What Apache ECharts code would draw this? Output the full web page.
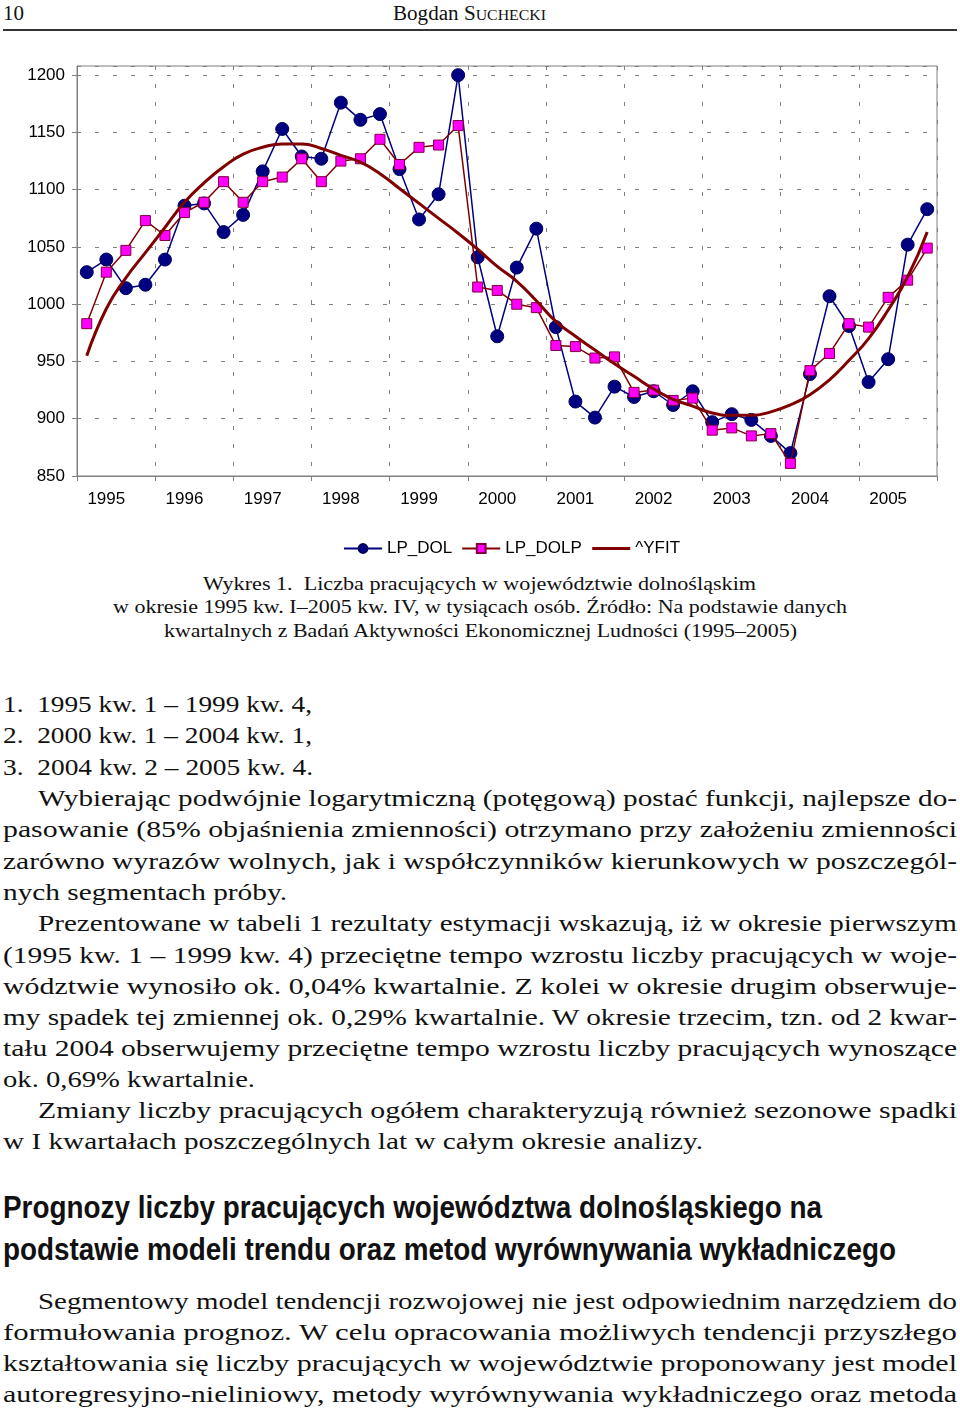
<!DOCTYPE html>
<html>
<head>
<meta charset="utf-8">
<script src="https://cdn.jsdelivr.net/npm/echarts@6/dist/echarts.min.js"></script>
<style>
  html, body { margin:0; padding:0; background:#fff; }
  body { width:960px; height:1416px; position:relative; overflow:hidden; }
  .ln { position:absolute; white-space:nowrap; transform-origin:0 0; color:#111; }
  .serif { font-family:'Liberation Serif','DejaVu Serif',serif; font-size:24px; line-height:30px; }
  .cap { font-family:'Liberation Serif','DejaVu Serif',serif; font-size:19px; line-height:24px; }
  .head { font-family:'Liberation Sans',Arial,sans-serif; font-weight:bold; font-size:31px; line-height:40px; color:#111; }
  #chart { position:absolute; left:0; top:40px; width:960px; height:530px; }
</style>
</head>
<body>
<div class="ln serif" style="top:-2px;font-size:21px" data-l="3" data-r="24">10</div>
<div class="ln serif" style="top:-2px;font-size:20px" data-l="393" data-r="546">Bogdan S<span style="font-size:15px">UCHECKI</span></div>
<div style="position:absolute;left:3px;top:29px;width:954px;height:2px;background:#333"></div>

<div id="chart"></div>

<div class="ln cap" style="top:572px" data-l="203" data-r="756">Wykres 1.&nbsp; Liczba pracujących w województwie dolnośląskim</div>
<div class="ln cap" style="top:595px" data-l="113" data-r="847">w okresie 1995 kw. I–2005 kw. IV, w tysiącach osób. Źródło: Na podstawie danych</div>
<div class="ln cap" style="top:619px" data-l="164" data-r="797">kwartalnych z Badań Aktywności Ekonomicznej Ludności (1995–2005)</div>

<div class="ln serif" style="top:689px" data-l="3" data-r="312">1.&nbsp; 1995 kw. 1 – 1999 kw. 4,</div>
<div class="ln serif" style="top:720px" data-l="3" data-r="312">2.&nbsp; 2000 kw. 1 – 2004 kw. 1,</div>
<div class="ln serif" style="top:752px" data-l="3" data-r="313">3.&nbsp; 2004 kw. 2 – 2005 kw. 4.</div>
<div class="ln serif" style="top:783px" data-l="38" data-r="957">Wybierając podwójnie logarytmiczną (potęgową) postać funkcji, najlepsze do-</div>
<div class="ln serif" style="top:814px" data-l="3" data-r="957">pasowanie (85% objaśnienia zmienności) otrzymano przy założeniu zmienności</div>
<div class="ln serif" style="top:846px" data-l="3" data-r="957">zarówno wyrazów wolnych, jak i współczynników kierunkowych w poszczegól-</div>
<div class="ln serif" style="top:877px" data-l="3" data-r="287">nych segmentach próby.</div>
<div class="ln serif" style="top:908px" data-l="38" data-r="957">Prezentowane w tabeli 1 rezultaty estymacji wskazują, iż w okresie pierwszym</div>
<div class="ln serif" style="top:940px" data-l="3" data-r="957">(1995 kw. 1 – 1999 kw. 4) przeciętne tempo wzrostu liczby pracujących w woje-</div>
<div class="ln serif" style="top:971px" data-l="3" data-r="957">wództwie wynosiło ok. 0,04% kwartalnie. Z kolei w okresie drugim obserwuje-</div>
<div class="ln serif" style="top:1002px" data-l="3" data-r="957">my spadek tej zmiennej ok. 0,29% kwartalnie. W okresie trzecim, tzn. od 2 kwar-</div>
<div class="ln serif" style="top:1033px" data-l="3" data-r="957">tału 2004 obserwujemy przeciętne tempo wzrostu liczby pracujących wynoszące</div>
<div class="ln serif" style="top:1064px" data-l="3" data-r="255">ok. 0,69% kwartalnie.</div>
<div class="ln serif" style="top:1095px" data-l="38" data-r="957">Zmiany liczby pracujących ogółem charakteryzują również sezonowe spadki</div>
<div class="ln serif" style="top:1126px" data-l="3" data-r="703">w I kwartałach poszczególnych lat w całym okresie analizy.</div>

<div class="ln head" style="top:1188px" data-l="3" data-r="822">Prognozy liczby pracujących województwa dolnośląskiego na</div>
<div class="ln head" style="top:1230px" data-l="3" data-r="896">podstawie modeli trendu oraz metod wyrównywania wykładniczego</div>

<div class="ln serif" style="top:1286px" data-l="38" data-r="957">Segmentowy model tendencji rozwojowej nie jest odpowiednim narzędziem do</div>
<div class="ln serif" style="top:1317px" data-l="3" data-r="957">formułowania prognoz. W celu opracowania możliwych tendencji przyszłego</div>
<div class="ln serif" style="top:1348px" data-l="3" data-r="957">kształtowania się liczby pracujących w województwie proponowany jest model</div>
<div class="ln serif" style="top:1379px" data-l="3" data-r="957">autoregresyjno-nieliniowy, metody wyrównywania wykładniczego oraz metoda</div>

<script>
// ---- data ----
const years = ['1995','1996','1997','1998','1999','2000','2001','2002','2003','2004','2005'];
const quarters = ['Q1','Q2','Q3','Q4'];
const seriesNames = ['LP_DOL','LP_DOLP','^YFIT'];
const lpDol = [
  1028, 1039, 1014, 1017,
  1039, 1086, 1088, 1063,
  1078, 1116, 1153, 1129,
  1127, 1176, 1161, 1166,
  1118, 1074, 1096, 1200,
  1041, 972, 1032, 1066,
  980, 915, 901, 928,
  919, 924, 912, 924,
  897, 904, 899, 885,
  870, 939, 1007, 981,
  932, 952, 1052, 1083
];
const lpDolp = [
  983, 1028, 1047, 1073,
  1060, 1080, 1089, 1107,
  1089, 1107, 1111, 1127,
  1107, 1125, 1127, 1144,
  1122, 1137, 1139, 1156,
  1015, 1012, 1000, 997,
  964, 963, 953, 954,
  923, 925, 916, 918,
  890, 892, 885, 887,
  861, 942, 957, 983,
  980, 1006, 1021, 1049
];
const yFit = [
  955, 996, 1023, 1045,
  1067, 1089, 1106, 1120,
  1131, 1137, 1140, 1140,
  1136, 1130, 1124, 1114,
  1101, 1088, 1075, 1062,
  1048, 1033, 1020, 1003,
  985, 972, 960, 948,
  937, 926, 917, 911,
  905, 903, 903, 906,
  912, 921, 934, 951,
  970, 995, 1024, 1063
];
const yMin = 850, yMax = 1208, yStep = 50;

const categories = [];
years.forEach(y => quarters.forEach(q => categories.push(y + ' ' + q)));

// ---- fit text lines ----
document.querySelectorAll('.ln').forEach(el => {
  const l = +el.dataset.l, r = +el.dataset.r;
  el.style.left = l + 'px';
  const w = el.getBoundingClientRect().width;
  if (w > 0) el.style.transform = 'scaleX(' + ((r - l) / w) + ')';
});

// ---- chart ----
const font = "'Liberation Sans', Arial, sans-serif";
const gridColor = '#808080';
const chart = echarts.init(document.getElementById('chart'), null, {renderer:'canvas'});
chart.setOption({
  animation: false,
  backgroundColor: 'transparent',
  textStyle: { fontFamily: font },
  grid: { left: 77, right: 23, top: 26, bottom: 94, show: true, borderColor: gridColor, borderWidth: 1, backgroundColor: 'transparent' },
  legend: {
    left: 338, top: 495, itemWidth: 38, itemHeight: 11, itemGap: 9,
    textStyle: { fontSize: 17, color: '#000', fontFamily: font },
    data: [
      { name: seriesNames[0] },
      { name: seriesNames[1] },
      { name: seriesNames[2], lineStyle: { width: 3, color: '#800000' },
        itemStyle: { color: 'rgba(0,0,0,0)', borderColor: 'rgba(0,0,0,0)', borderWidth: 0 } }
    ]
  },
  xAxis: {
    type: 'category', data: categories, boundaryGap: true,
    axisLine: { lineStyle: { color: gridColor, width: 1 } },
    axisTick: { show: true, length: 5, interval: i => i % 4 === 0, lineStyle: { color: gridColor } },
    axisLabel: { interval: i => i % 4 === 1, formatter: v => v.slice(0, 4), fontSize: 17, color: '#000', margin: 15, fontFamily: font },
    splitLine: { show: true, interval: i => i % 4 === 0, lineStyle: { type: [4, 14], color: gridColor, width: 1 } }
  },
  yAxis: {
    type: 'value', min: yMin, max: yMax, interval: yStep,
    axisLine: { show: true, lineStyle: { color: gridColor, width: 1 } },
    axisTick: { show: true, length: 5, lineStyle: { color: gridColor } },
    axisLabel: { fontSize: 17, color: '#000', margin: 12, showMaxLabel: false, fontFamily: font,
      formatter: v => (v % yStep === 0 ? String(v) : '') },
    splitLine: { show: true, lineStyle: { type: [4, 14], color: gridColor, width: 1 } }
  },
  series: [
    { name: seriesNames[0], type: 'line', data: lpDol, symbol: 'circle', symbolSize: 13,
      lineStyle: { color: '#000080', width: 1.5 },
      itemStyle: { color: '#000080', borderColor: '#000060', borderWidth: 1 }, z: 2 },
    { name: seriesNames[1], type: 'line', data: lpDolp, symbol: 'rect', symbolSize: 10,
      lineStyle: { color: '#800000', width: 1.5 },
      itemStyle: { color: '#FF00FF', borderColor: '#800040', borderWidth: 1 }, z: 3 },
    { name: seriesNames[2], type: 'line', data: yFit, symbol: 'none', smooth: 0.5,
      lineStyle: { color: '#800000', width: 3 },
      itemStyle: { color: '#800000' }, z: 4 }
  ]
});
</script>
</body>
</html>
